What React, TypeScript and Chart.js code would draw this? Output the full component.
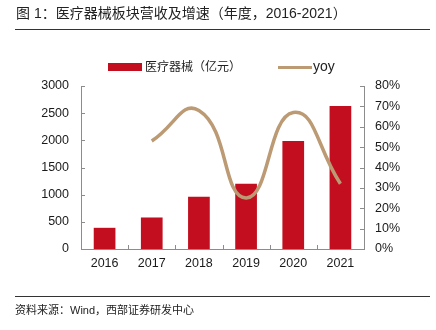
import React, { useEffect, useRef } from "react";
import { Chart, registerables } from "chart.js";

Chart.register(...registerables);

const categories = ["2016", "2017", "2018", "2019", "2020", "2021"];
const revenue = [390, 580, 960, 1200, 1990, 2630];
const yoy: (number | null)[] = [null, 0.53, 0.68, 0.25, 0.67, 0.32];
const barLabel = "医疗器械（亿元）";
const lineLabel = "yoy";
const titleText = "图 1：医疗器械板块营收及增速（年度，2016-2021）";
const sourceText = "资料来源：Wind，西部证券研发中心";

const BAR_COLOR = "#C20E1F";
const LINE_COLOR = "#BC9A74";
const AXIS_COLOR = "#8C8C8C";
const FONT = "'Liberation Sans', Arial, 'Noto Sans CJK SC', sans-serif";

const innerTicks = {
  id: "innerTicks",
  afterDraw(chart: any) {
    const { ctx, chartArea, scales } = chart;
    const len = 4;
    ctx.save();
    ctx.strokeStyle = AXIS_COLOR;
    ctx.lineWidth = 1;
    ctx.beginPath();
    const y = scales.y;
    y.ticks.forEach((_: any, i: number) => {
      const py = Math.round(y.getPixelForTick(i)) + 0.5;
      ctx.moveTo(chartArea.left, py);
      ctx.lineTo(chartArea.left + len, py);
    });
    const y1 = scales.y1;
    y1.ticks.forEach((_: any, i: number) => {
      const py = Math.round(y1.getPixelForTick(i)) + 0.5;
      ctx.moveTo(chartArea.right - len, py);
      ctx.lineTo(chartArea.right, py);
    });
    const x = scales.x;
    for (let i = 1; i < categories.length; i++) {
      const px = Math.round(x.getPixelForValue(i - 0.5)) + 0.5;
      ctx.moveTo(px, chartArea.bottom);
      ctx.lineTo(px, chartArea.bottom - len);
    }
    ctx.stroke();
    ctx.restore();
  },
};

export default function App() {
  const ref = useRef<HTMLCanvasElement | null>(null);

  useEffect(() => {
    if (!ref.current) return;
    const tickFont = { family: FONT, size: 12.5 };
    const chart = new Chart(ref.current, {
      type: "bar",
      data: {
        labels: categories,
        datasets: [
          {
            type: "line",
            label: lineLabel,
            data: yoy,
            yAxisID: "y1",
            borderColor: LINE_COLOR,
            backgroundColor: LINE_COLOR,
            borderWidth: 3.5,
            pointRadius: 0,
            tension: 0.5,
            order: 0,
          } as any,
          {
            type: "bar",
            label: barLabel,
            data: revenue,
            yAxisID: "y",
            backgroundColor: BAR_COLOR,
            categoryPercentage: 1,
            barPercentage: 0.46,
            order: 1,
          },
        ],
      },
      options: {
        responsive: false,
        animation: false,
        devicePixelRatio: 1,
        layout: { padding: { left: 0, right: 0, top: 86, bottom: 51 } },
        plugins: {
          legend: { display: false },
          tooltip: { enabled: false },
          title: { display: false },
        },
        scales: {
          x: {
            offset: true,
            grid: { display: false, drawTicks: false },
            border: { display: true, color: AXIS_COLOR, width: 1 },
            ticks: { color: "#1a1a1a", font: tickFont, padding: 7, maxRotation: 0 },
            afterFit: (s: any) => {
              s.height = 30;
            },
          },
          y: {
            position: "left",
            min: 0,
            max: 3000,
            grid: { display: false, drawTicks: false },
            border: { display: true, color: AXIS_COLOR, width: 1 },
            ticks: {
              stepSize: 500,
              color: "#1a1a1a",
              font: tickFont,
              padding: 12,
              callback: (v: any) => String(Math.round(Number(v))),
            },
            afterFit: (s: any) => {
              s.width = 81;
            },
          },
          y1: {
            position: "right",
            min: 0,
            max: 0.8,
            grid: { display: false, drawTicks: false },
            border: { display: true, color: AXIS_COLOR, width: 1 },
            ticks: {
              stepSize: 0.1,
              color: "#1a1a1a",
              font: tickFont,
              padding: 11,
              callback: (v: any) => `${Math.round(Number(v) * 100)}%`,
            },
            afterFit: (s: any) => {
              s.width = 72;
            },
          },
        },
      },
      plugins: [innerTicks],
    });
    return () => chart.destroy();
  }, []);

  return (
    <div
      style={{
        position: "fixed",
        left: 0,
        top: 0,
        width: 436,
        height: 330,
        background: "#fff",
        overflow: "hidden",
        fontFamily: FONT,
      }}
    >
      <canvas
        ref={ref}
        width={436}
        height={330}
        style={{ position: "absolute", left: 0, top: 0, width: 436, height: 330 }}
      />
      <div
        style={{
          position: "absolute",
          left: 16,
          top: 4,
          fontSize: 14,
          lineHeight: "18px",
          color: "#222",
          whiteSpace: "nowrap",
        }}
      >
        {titleText}
      </div>
      <div
        style={{
          position: "absolute",
          left: 15,
          top: 29,
          width: 415,
          height: 1,
          background: "#333",
        }}
      />
      <div
        style={{
          position: "absolute",
          left: 108,
          top: 63,
          width: 34,
          height: 8,
          background: BAR_COLOR,
        }}
      />
      <div
        style={{
          position: "absolute",
          left: 145,
          top: 59,
          fontSize: 12,
          lineHeight: "17px",
          color: "#222",
          whiteSpace: "nowrap",
        }}
      >
        {barLabel}
      </div>
      <div
        style={{
          position: "absolute",
          left: 278,
          top: 66,
          width: 34,
          height: 3,
          background: LINE_COLOR,
        }}
      />
      <div
        style={{
          position: "absolute",
          left: 313,
          top: 58,
          fontSize: 14,
          lineHeight: "17px",
          color: "#222",
          whiteSpace: "nowrap",
        }}
      >
        {lineLabel}
      </div>
      <div
        style={{
          position: "absolute",
          left: 15,
          top: 296,
          width: 415,
          height: 1,
          background: "#333",
        }}
      />
      <div
        style={{
          position: "absolute",
          left: 15,
          top: 303,
          fontSize: 11,
          lineHeight: "15px",
          color: "#222",
          whiteSpace: "nowrap",
        }}
      >
        {sourceText}
      </div>
    </div>
  );
}
